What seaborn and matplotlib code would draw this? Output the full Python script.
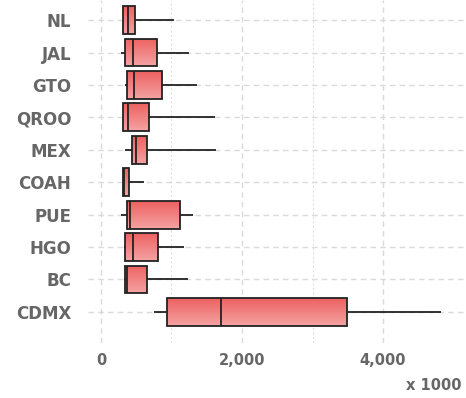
import numpy as np
import pandas as pd
import matplotlib
matplotlib.use("Agg")
import matplotlib.pyplot as plt
from matplotlib.ticker import FixedLocator, FuncFormatter
import seaborn as sns

# Five-number summaries (thousands) per state
states = ["NL", "JAL", "GTO", "QROO", "MEX", "COAH", "PUE", "HGO", "BC", "CDMX"]
mins    = [312, 284, 340, 312, 340, 312, 284, 326, 326, 752]
q1s     = [312, 340, 369, 312, 440, 312, 369, 340, 340, 936]
medians = [383, 454, 468, 380, 496, 330, 411, 454, 369, 1702]
q3s     = [482, 794, 865, 681, 652, 397, 1120, 808, 652, 3489]
maxs    = [1035, 1248, 1362, 1617, 1631, 610, 1305, 1177, 1234, 4823]

rows = []
for s, a, b, c, d, e in zip(states, mins, q1s, medians, q3s, maxs):
    for v in (a, b, c, d, e):
        rows.append({"state": s, "value": v})
df = pd.DataFrame(rows)

sns.set_style("white")
plt.rcParams["font.family"] = ["DejaVu Sans"]

fig = plt.figure(figsize=(4.66, 3.98), dpi=100)
ax = fig.add_axes([88 / 466, 55 / 398, 378 / 466, 343 / 398])

sns.boxplot(
    data=df, x="value", y="state", order=states, orient="h",
    whis=(0, 100), width=0.86, showcaps=False, showfliers=False,
    color="#F07070", linecolor="#222222", linewidth=1.3, ax=ax,
)

# vertical gradient fill inside each box
grad = np.linspace(0, 1, 64).reshape(-1, 1)
top = np.array([0.93, 0.38, 0.38])
bot = np.array([0.96, 0.64, 0.64])
img = top[None, None, :] * (1 - grad[:, :, None]) + bot[None, None, :] * grad[:, :, None]
for p in list(ax.patches):
    verts = p.get_path().vertices
    x0, x1 = verts[:, 0].min(), verts[:, 0].max()
    y0, y1 = verts[:, 1].min(), verts[:, 1].max()
    im = ax.imshow(img, extent=[x0, x1, y1, y0], aspect="auto",
                   zorder=p.get_zorder() + 0.05, interpolation="bilinear")
    im.set_clip_path(p)
    p.set_facecolor("none")
    p.set_zorder(p.get_zorder() + 0.1)
for ln in ax.lines:
    ln.set_zorder(3)

ax.set_xlim(-184, 5177)
ax.set_ylim(9.96, -0.62)

# grid
for i in range(len(states)):
    ax.axhline(i, color="#DADADA", lw=1.0, ls=(0, (4, 3)), zorder=0.5)
for xv in (0, 2000, 4000):
    ax.axvline(xv, color="#DADADA", lw=1.0, ls=(0, (4, 3)), zorder=0.5)
for xv in (1000, 3000):
    ax.axvline(xv, color="#E0E0E0", lw=0.8, ls=(0, (2, 2)), zorder=0.5)

for sp in ax.spines.values():
    sp.set_visible(False)

ax.xaxis.set_major_locator(FixedLocator([0, 2000, 4000]))
ax.xaxis.set_major_formatter(FuncFormatter(lambda v, _: f"{int(v):,}"))
ax.tick_params(axis="x", length=5, width=1.3, color="#333333", pad=2,
               labelsize=10.5, labelcolor="#666666")
ax.tick_params(axis="y", length=0, pad=12, labelsize=12, labelcolor="#666666")
for lab in ax.get_xticklabels() + ax.get_yticklabels():
    lab.set_fontweight("bold")

ax.set_xlabel("")
ax.set_ylabel("")
fig.text(461 / 466, 1 - 386 / 398, "x 1000", ha="right", va="center",
         fontsize=10.5, fontweight="bold", color="#666666")

fig.savefig("out.png", dpi=100)
